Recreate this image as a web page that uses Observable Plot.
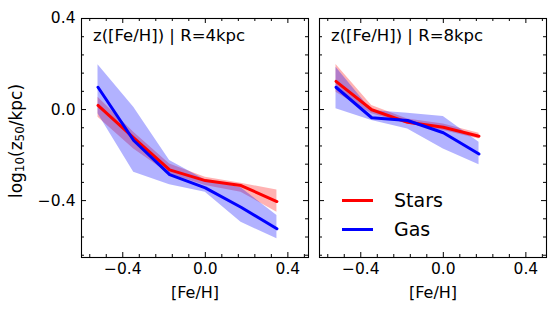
<!DOCTYPE html>
<html><head><meta charset="utf-8">
<script src="https://cdn.jsdelivr.net/npm/d3@7"></script>
<script src="https://cdn.jsdelivr.net/npm/@observablehq/plot@0.6"></script>
<style>
body{margin:0;background:#fff}
#chart{position:relative;width:556px;height:313px;font-family:"DejaVu Sans",sans-serif;color:#000;overflow:hidden}
#chart svg{position:absolute;top:0}
.ylab{position:absolute;left:16px;top:141px;transform:translate(-50%,-50%) rotate(-90deg);white-space:nowrap;font-size:17px}
.ylab sub{font-size:70%;vertical-align:-0.2em;line-height:0}
.leg{position:absolute;font-size:19px;display:flex;align-items:center}
.leg span.sw{display:inline-block;width:31px;height:3px;margin-right:21px}
</style>
</head><body><div id="chart"></div>
<script>
// ---- data ----
const panelTitles = ["z([Fe/H]) | R=4kpc", "z([Fe/H]) | R=8kpc"];
const seriesNames = ["Stars", "Gas"];
const seriesColors = ["red", "blue"];

const feh4 = [-0.52, -0.347, -0.173, 0.0, 0.173, 0.347];
const stars4   = [0.018, -0.124, -0.265, -0.312, -0.334, -0.404];
const stars4Lo = [-0.034, -0.173, -0.283, -0.334, -0.363, -0.451];
const stars4Hi = [0.054, -0.100, -0.239, -0.297, -0.324, -0.353];
const gas4     = [0.098, -0.136, -0.286, -0.344, -0.429, -0.524];
const gas4Lo   = [-0.019, -0.276, -0.330, -0.363, -0.495, -0.568];
const gas4Hi   = [0.197, 0.010, -0.224, -0.309, -0.344, -0.466];

const feh8 = [-0.52, -0.347, -0.173, 0.0, 0.173];
const stars8   = [0.124, -0.001, -0.056, -0.078, -0.117];
const stars8Lo = [0.076, -0.019, -0.063, -0.092, -0.129];
const stars8Hi = [0.198, 0.018, -0.041, -0.063, -0.104];
const gas8     = [0.098, -0.036, -0.048, -0.102, -0.195];
const gas8Lo   = [0.003, -0.048, -0.085, -0.173, -0.242];
const gas8Hi   = [0.186, -0.004, -0.016, -0.031, -0.144];

const xMajor = [-0.4, 0.0, 0.4];
const xMinor = [-0.56, -0.48, -0.32, -0.24, -0.16, -0.08, 0.08, 0.16, 0.24, 0.32, 0.48];
const yMajor = [0.4, 0.0, -0.4];
const yMinor = [0.32, 0.24, 0.16, 0.08, -0.08, -0.16, -0.24, -0.32, -0.48, -0.56, -0.64];

const xLabel = "[Fe/H]";

// ---- build ----
const H = 313, MT = 18, MB = 56, IH = H - MT - MB;
const fmt = d3.format(".1f");

function rows(x, y, lo, hi) { return x.map((v, i) => ({x: v, y: y[i], lo: lo[i], hi: hi[i]})); }

function panel({title, stars, gas, left, width, marginLeft, marginRight, showYLabels}) {
  const IW = width - marginLeft - marginRight;
  const marks = [
    Plot.areaY(stars, {x: "x", y1: "lo", y2: "hi", fill: seriesColors[0], fillOpacity: 0.3}),
    Plot.areaY(gas, {x: "x", y1: "lo", y2: "hi", fill: seriesColors[1], fillOpacity: 0.3}),
    Plot.line(stars, {x: "x", y: "y", stroke: seriesColors[0], strokeWidth: 3}),
    Plot.line(gas, {x: "x", y: "y", stroke: seriesColors[1], strokeWidth: 3}),
    // inward ticks on all four sides
    Plot.tickX(xMajor, {x: d => d, insetTop: IH - 5, stroke: "black"}),
    Plot.tickX(xMajor, {x: d => d, insetBottom: IH - 5, stroke: "black"}),
    Plot.tickX(xMinor, {x: d => d, insetTop: IH - 3, stroke: "black"}),
    Plot.tickX(xMinor, {x: d => d, insetBottom: IH - 3, stroke: "black"}),
    Plot.tickY(yMajor, {y: d => d, insetRight: IW - 5, stroke: "black"}),
    Plot.tickY(yMajor, {y: d => d, insetLeft: IW - 5, stroke: "black"}),
    Plot.tickY(yMinor, {y: d => d, insetRight: IW - 3, stroke: "black"}),
    Plot.tickY(yMinor, {y: d => d, insetLeft: IW - 3, stroke: "black"}),
    Plot.frame({stroke: "black", strokeWidth: 1.1}),
    Plot.axisX({ticks: xMajor, tickSize: 0, tickPadding: 5, tickFormat: fmt, fontSize: 15.5, label: null}),
    Plot.text([xLabel], {frameAnchor: "bottom", dy: 40, fontSize: 16, fill: "black"}),
    Plot.text([title], {frameAnchor: "top-left", dx: 11.5, dy: 10.5, lineAnchor: "top", textAnchor: "start", fontSize: 16.5, fill: "black"})
  ];
  marks.push(showYLabels
    ? Plot.axisY({ticks: yMajor, tickSize: 0, tickPadding: 6, tickFormat: fmt, fontSize: 15.5, label: null})
    : Plot.axisY({ticks: [], tickSize: 0, label: null}));
  const svg = Plot.plot({
    width, height: H, marginTop: MT, marginBottom: MB, marginLeft, marginRight,
    x: {domain: [-0.6, 0.5]},
    y: {domain: [-0.65, 0.4]},
    style: {fontFamily: "DejaVu Sans", fontSize: "15.5px", color: "black", background: "transparent", overflow: "visible"},
    marks
  });
  svg.style.left = left + "px";
  return svg;
}

const chart = document.getElementById("chart");
chart.appendChild(panel({title: panelTitles[0], stars: rows(feh4, stars4, stars4Lo, stars4Hi), gas: rows(feh4, gas4, gas4Lo, gas4Hi), left: 0, width: 314, marginLeft: 81, marginRight: 6, showYLabels: true}));
chart.appendChild(panel({title: panelTitles[1], stars: rows(feh8, stars8, stars8Lo, stars8Hi), gas: rows(feh8, gas8, gas8Lo, gas8Hi), left: 313, width: 243, marginLeft: 6, marginRight: 10, showYLabels: false}));

const yl = document.createElement("div");
yl.className = "ylab";
yl.innerHTML = "log<sub>10</sub>(z<sub>50</sub>/kpc)";
chart.appendChild(yl);

const legTops = [200, 229];
seriesNames.forEach((name, i) => {
  const d = document.createElement("div");
  d.className = "leg";
  d.style.left = "342px";
  d.style.top = (legTops[i] - 12) + "px";
  d.style.height = "24px";
  d.innerHTML = `<span class="sw" style="background:${seriesColors[i]}"></span><span>${name}</span>`;
  chart.appendChild(d);
});
</script></body></html>
